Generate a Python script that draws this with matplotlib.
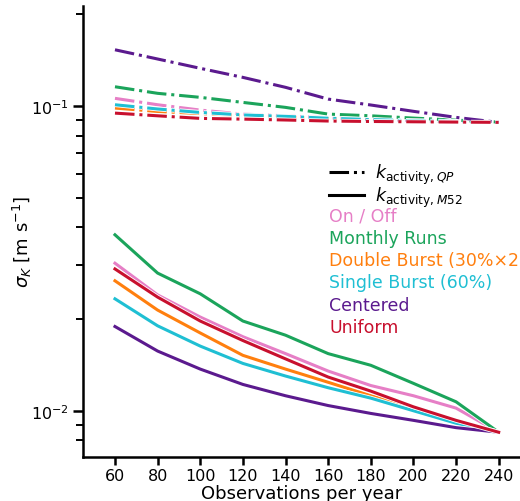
import matplotlib
matplotlib.use("Agg")
import matplotlib.pyplot as plt
import matplotlib.patheffects as pe
from matplotlib.lines import Line2D

obs = [60, 80, 100, 120, 140, 160, 180, 200, 220, 240]

# k_activity, M52 (solid)
m52_onoff = [0.0305, 0.0240, 0.0203, 0.0175, 0.0154, 0.0135, 0.0121, 0.0112, 0.0102, 0.0085]
m52_monthly = [0.0378, 0.0283, 0.0242, 0.0197, 0.0177, 0.0154, 0.0141, 0.0123, 0.0107, 0.0085]
m52_double = [0.0267, 0.0214, 0.0180, 0.0152, 0.0137, 0.0124, 0.0112, 0.0102, 0.0093, 0.0085]
m52_single = [0.0233, 0.0190, 0.0163, 0.0143, 0.0130, 0.0119, 0.0110, 0.0100, 0.0091, 0.0085]
m52_centered = [0.0189, 0.0157, 0.0137, 0.0122, 0.0112, 0.0104, 0.0098, 0.0093, 0.0088, 0.0085]
m52_uniform = [0.0292, 0.0236, 0.0197, 0.0170, 0.0148, 0.0129, 0.0116, 0.0103, 0.0093, 0.0085]

# k_activity, QP (dash-dot)
qp_onoff = [0.1060, 0.1010, 0.0970, 0.0941, 0.0929, 0.0915, 0.0905, 0.0897, 0.0890, 0.0884]
qp_monthly = [0.1157, 0.1101, 0.1068, 0.1028, 0.0990, 0.0941, 0.0929, 0.0913, 0.0899, 0.0886]
qp_double = [0.0985, 0.0960, 0.0945, 0.0930, 0.0920, 0.0910, 0.0900, 0.0893, 0.0888, 0.0884]
qp_single = [0.1010, 0.0978, 0.0953, 0.0935, 0.0925, 0.0912, 0.0903, 0.0895, 0.0890, 0.0884]
qp_centered = [0.1530, 0.1427, 0.1330, 0.1242, 0.1152, 0.1054, 0.1008, 0.0961, 0.0918, 0.0884]
qp_uniform = [0.0948, 0.0929, 0.0911, 0.0906, 0.0900, 0.0893, 0.0890, 0.0888, 0.0886, 0.0884]

labels = ["On / Off", "Monthly Runs", "Double Burst (30%×2)", "Single Burst (60%)",
          "Centered", "Uniform"]
colors = ["#e67fc6", "#1ba45b", "#ff7f0e", "#1fbfd3", "#5b1a8e", "#c8102e"]
m52 = [m52_onoff, m52_monthly, m52_double, m52_single, m52_centered, m52_uniform]
qp = [qp_onoff, qp_monthly, qp_double, qp_single, qp_centered, qp_uniform]

fig = plt.figure(figsize=(5.2, 5.02), dpi=100)
ax = fig.add_axes([83/520, 1-458/502, 437/520, 451/502])

halo = [pe.Stroke(linewidth=3.4, foreground="white"), pe.Normal()]
for vals, c in zip(qp, colors):
    ax.plot(obs, vals, "-.", color=c, lw=2.2, path_effects=halo)
for vals, c in zip(m52, colors):
    ax.plot(obs, vals, "-", color=c, lw=2.2, path_effects=halo)

ax.set_yscale("log")
ax.set_xlim(45, 250)
ax.set_ylim(0.00705, 0.213)
ax.set_xticks(obs)
ax.spines["top"].set_visible(False)
ax.spines["right"].set_visible(False)
ax.spines["left"].set_linewidth(1.8)
ax.spines["bottom"].set_linewidth(1.8)
ax.tick_params(which="major", length=7, width=1.8, labelsize=11.5)
ax.tick_params(which="minor", length=5, width=1.4)
ax.tick_params(axis="x", which="major", length=6, pad=2)
ax.set_xlabel("Observations per year", fontsize=13, labelpad=1)
ax.set_ylabel(r"$\sigma_K$ [m s$^{-1}$]", fontsize=13)
ax.yaxis.set_label_coords(-0.112, 0.48)

handles = [Line2D([], [], color="black", ls="-.", lw=2.2),
           Line2D([], [], color="black", ls="-", lw=2.2)]
leg1 = ax.legend(handles, [r"$k_{\mathrm{activity},QP}$", r"$k_{\mathrm{activity},M52}$"],
                 frameon=False, fontsize=12.5, loc="upper left",
                 bbox_to_anchor=(0.548, 0.669), borderaxespad=0,
                 labelspacing=-0.1, handletextpad=0.6)
ax.add_artist(leg1)

blank = [Line2D([], [], alpha=0) for _ in labels]
leg2 = ax.legend(blank, labels, frameon=False, fontsize=12.5, loc="upper left",
                 bbox_to_anchor=(0.548, 0.571), borderaxespad=0,
                 handlelength=0, handletextpad=0, labelspacing=0.25)
for t, c in zip(leg2.get_texts(), colors):
    t.set_color(c)

fig.savefig("out.png", dpi=100)
